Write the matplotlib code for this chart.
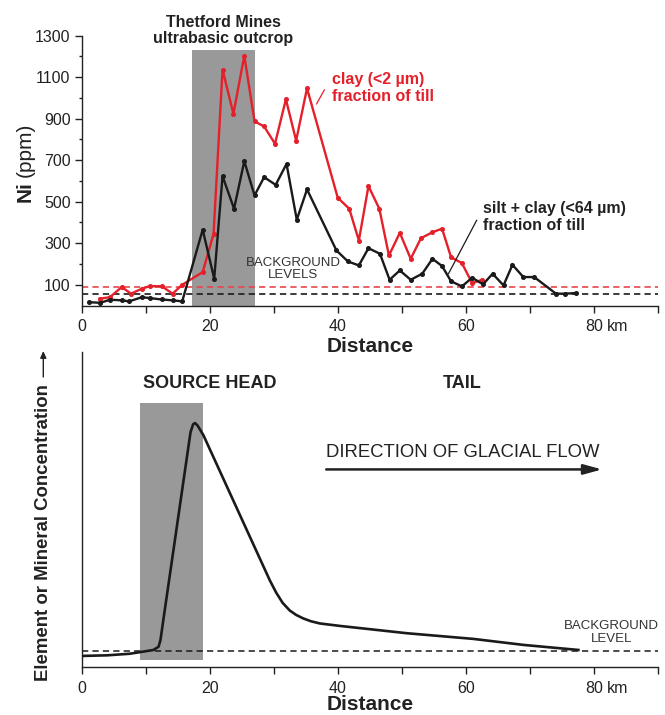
import matplotlib
matplotlib.use('Agg')
import matplotlib.pyplot as plt
from matplotlib import font_manager

plt.rcParams['font.family'] = ['Liberation Sans', 'DejaVu Sans']
plt.rcParams['lines.scale_dashes'] = False

# ---------------- data ----------------
# top chart: Ni (ppm) versus distance (km)
clay_km = [2.8, 4.4, 6.25, 7.7, 9.4, 10.6, 12.5, 14.2, 15.7, 18.9, 20.6, 22.0, 23.7, 25.4,
           27.0, 28.5, 30.2, 31.9, 33.5, 35.2, 40.0, 41.8, 43.3, 44.8, 46.5, 48.0, 49.7,
           51.4, 53.0, 54.8, 56.3, 57.7, 59.4, 61.0, 62.6]
clay_ppm = [33, 40, 89, 57, 81, 93, 93, 57, 100, 161, 345, 1136, 923, 1203,
            887, 862, 779, 993, 794, 1046, 519, 466, 313, 575, 466, 241, 350,
            225, 324, 353, 370, 233, 204, 108, 124]

silt_km = [1.2, 2.9, 4.4, 6.25, 7.4, 9.4, 10.6, 12.5, 14.2, 15.7, 18.9, 20.7, 22.0, 23.8,
           25.4, 27.0, 28.5, 30.3, 32.0, 33.6, 35.2, 39.8, 41.6, 43.3, 44.8, 46.6, 48.1,
           49.7, 51.4, 53.2, 54.8, 56.3, 57.7, 59.4, 61.0, 62.7, 64.2, 65.9, 67.3, 69.0,
           70.7, 74.1, 75.5, 77.2]
silt_ppm = [16, 13, 28, 25, 20, 40, 36, 29, 25, 20, 365, 129, 623, 466,
            695, 530, 618, 581, 682, 413, 559, 265, 212, 193, 276, 249, 124,
            169, 124, 153, 225, 190, 117, 92, 134, 102, 153, 97, 196, 137,
            137, 57, 57, 60]

clay_background = 90
silt_background = 54
outcrop_km = [17.3, 27.1]
outcrop_top = 1232

top_major_ticks = [100, 300, 500, 700, 900, 1100, 1300]
top_minor_ticks = [200, 400, 600, 800, 1000, 1200]
x_major_ticks = [0, 20, 40, 60, 80]
x_minor_ticks = [10, 30, 50, 70, 90]

# bottom chart: schematic dispersal train
train_km = [0, 4, 7.5, 9.1, 11.2, 12.0, 12.3, 12.75, 17.0, 17.4, 17.7, 18.1, 19.0,
            29.4, 30.4, 31.4, 32.5, 33.5, 34.6, 35.8, 37.2, 40.4, 50.8, 61.2, 69.0, 77.6]
train_conc = [3.6, 3.8, 4.3, 4.8, 5.5, 6.5, 8.6, 15.0, 74.5, 77.0, 77.4, 76.6, 73.6,
              27.5, 23.6, 20.4, 18.0, 16.6, 15.5, 14.6, 13.9, 13.1, 10.8, 9.0, 7.1, 5.5]
train_background = 5.2
source_km = [9.1, 18.9]
source_conc = [2.3, 83.8]

# annotation leader lines (km, ppm)
clay_leader_km = [36.7, 37.9]
clay_leader_ppm = [971, 1038]
silt_leader_km = [57.3, 61.7]
silt_leader_ppm = [153, 410]

RED = '#e4202b'
RED_DASH = '#e8454d'
BLACK = '#1a1a1a'
GRAY = '#999999'
TXT = '#222222'

names = {f.name for f in font_manager.fontManager.ttflist}
if 'Liberation Sans Narrow' in names:
    bg_family, bg_size = ['Liberation Sans Narrow', 'Liberation Sans'], 11.5
else:
    bg_family, bg_size = ['Liberation Sans'], 9.5

fig = plt.figure(figsize=(6.65, 7.15), dpi=100)
ax1 = fig.add_axes([0.1229, 0.5727, 0.8662, 0.3776])
ax2 = fig.add_axes([0.1229, 0.0667, 0.8662, 0.4414])

for ax in (ax1, ax2):
    ax.spines['top'].set_visible(False)
    ax.spines['right'].set_visible(False)
    for s in ('left', 'bottom'):
        ax.spines[s].set_linewidth(1.0)
        ax.spines[s].set_color(TXT)
    ax.set_xlim(0, 90)
    ax.set_xticks(x_major_ticks)
    ax.set_xticks(x_minor_ticks, minor=True)
    ax.set_xticklabels([str(v) for v in x_major_ticks])
    ax.tick_params(axis='x', which='both', direction='out', length=5, width=1.0,
                   color=TXT, labelsize=11.5, labelcolor=TXT, pad=5)
    ax.annotate('km', xy=(80, 0), xycoords=('data', 'axes fraction'),
                xytext=(9.5, -10), textcoords='offset points', ha='left', va='top',
                fontsize=11.5, color=TXT, annotation_clip=False)

# ---------- top chart ----------
ax1.set_ylim(0, 1300)
ax1.set_yticks(top_major_ticks)
ax1.set_yticks(top_minor_ticks, minor=True)
ax1.set_yticklabels([str(v) for v in top_major_ticks])
ax1.tick_params(axis='y', which='major', direction='out', length=5, width=1.0,
                color=TXT, labelsize=11.5, labelcolor=TXT, pad=3)
ax1.tick_params(axis='y', which='minor', direction='out', length=2.5, width=1.0, color=TXT)

ax1.fill_between(outcrop_km, [0, 0], [outcrop_top, outcrop_top], color=GRAY, lw=0, zorder=1)
ax1.axhline(clay_background, color=RED_DASH, lw=1.2, dashes=(4.5, 3), zorder=2)
ax1.axhline(silt_background, color=BLACK, lw=1.2, dashes=(4.5, 3), zorder=2)

ax1.plot(silt_km, silt_ppm, color=BLACK, lw=1.7, marker='o', ms=2.6, zorder=4,
         solid_joinstyle='miter')
ax1.plot(clay_km, clay_ppm, color=RED, lw=1.7, marker='o', ms=2.6, zorder=3,
         solid_joinstyle='miter')

ax1.plot(clay_leader_km, clay_leader_ppm, color=RED, lw=0.9, zorder=5)
ax1.plot(silt_leader_km, silt_leader_ppm, color=BLACK, lw=0.9, zorder=5)

ax1.text(22.1, 1326, 'Thetford Mines\nultrabasic outcrop', ha='center', va='center',
         fontsize=11.5, fontweight='bold', color=TXT, linespacing=1.1, clip_on=False)
ax1.text(39.1, 1047, 'clay (<2 µm)\nfraction of till', ha='left', va='center',
         fontsize=11.5, fontweight='bold', color=RED, linespacing=1.1)
ax1.text(62.7, 425, 'silt + clay (<64 µm)\nfraction of till', ha='left', va='center',
         fontsize=11.5, fontweight='bold', color=TXT, linespacing=1.15)
ax1.text(33.0, 177, 'BACKGROUND\nLEVELS', ha='center', va='center', family=bg_family,
         fontsize=bg_size, color='#333333', linespacing=0.95)

fig.text(25 / 665, 1 - 192 / 715, 'Ni', rotation=90, ha='center', va='center',
         fontsize=15, fontweight='bold', color=TXT)
fig.text(25 / 665, 1 - 149.5 / 715, '(ppm)', rotation=90, ha='center', va='center',
         fontsize=15, color=TXT)
fig.text(369.7 / 665, 1 - 347 / 715, 'Distance', ha='center', va='center',
         fontsize=15, fontweight='bold', color=TXT)

# ---------- bottom chart ----------
ax2.set_ylim(0, 100)
ax2.set_yticks([])
ax2.fill_between(source_km, [source_conc[0]] * 2, [source_conc[1]] * 2, color=GRAY,
                 lw=0, zorder=1)
ax2.axhline(train_background, color=BLACK, lw=1.1, dashes=(4.5, 3), zorder=2)
ax2.plot(train_km, train_conc, color=BLACK, lw=1.9, zorder=3, solid_joinstyle='round')

ax2.text(20.0, 90.0, 'SOURCE HEAD', ha='center', va='center', fontsize=13,
         fontweight='bold', color=TXT)
ax2.text(59.5, 90.0, 'TAIL', ha='center', va='center', fontsize=13,
         fontweight='bold', color=TXT)
ax2.text(38.2, 68.0, 'DIRECTION OF GLACIAL FLOW', ha='left', va='center', fontsize=13.3,
         color=TXT)
ax2.annotate('', xy=(81.3, 62.7), xytext=(38.2, 62.7),
             arrowprops=dict(arrowstyle='-|>,head_length=1.1,head_width=0.3', lw=1.8,
                             color=TXT, shrinkA=0, shrinkB=0))
ax2.text(82.8, 11.0, 'BACKGROUND\nLEVEL', ha='center', va='center', family=bg_family,
         fontsize=bg_size, color='#333333', linespacing=1.1)

fig.text(43.3 / 665, 1 - 533 / 715, 'Element or Mineral Concentration', rotation=90,
         ha='center', va='center', fontsize=13.4, fontweight='bold', color=TXT)
fig.add_artist(matplotlib.patches.FancyArrowPatch(
    (43.3 / 665, 1 - 377 / 715), (43.3 / 665, 1 - 351 / 715),
    transform=fig.transFigure, arrowstyle='-|>,head_length=4,head_width=1.8',
    lw=1.0, color=TXT, shrinkA=0, shrinkB=0))
fig.text(369.7 / 665, 1 - 705 / 715, 'Distance', ha='center', va='center',
         fontsize=15, fontweight='bold', color=TXT)

fig.savefig('out.png', dpi=100)
